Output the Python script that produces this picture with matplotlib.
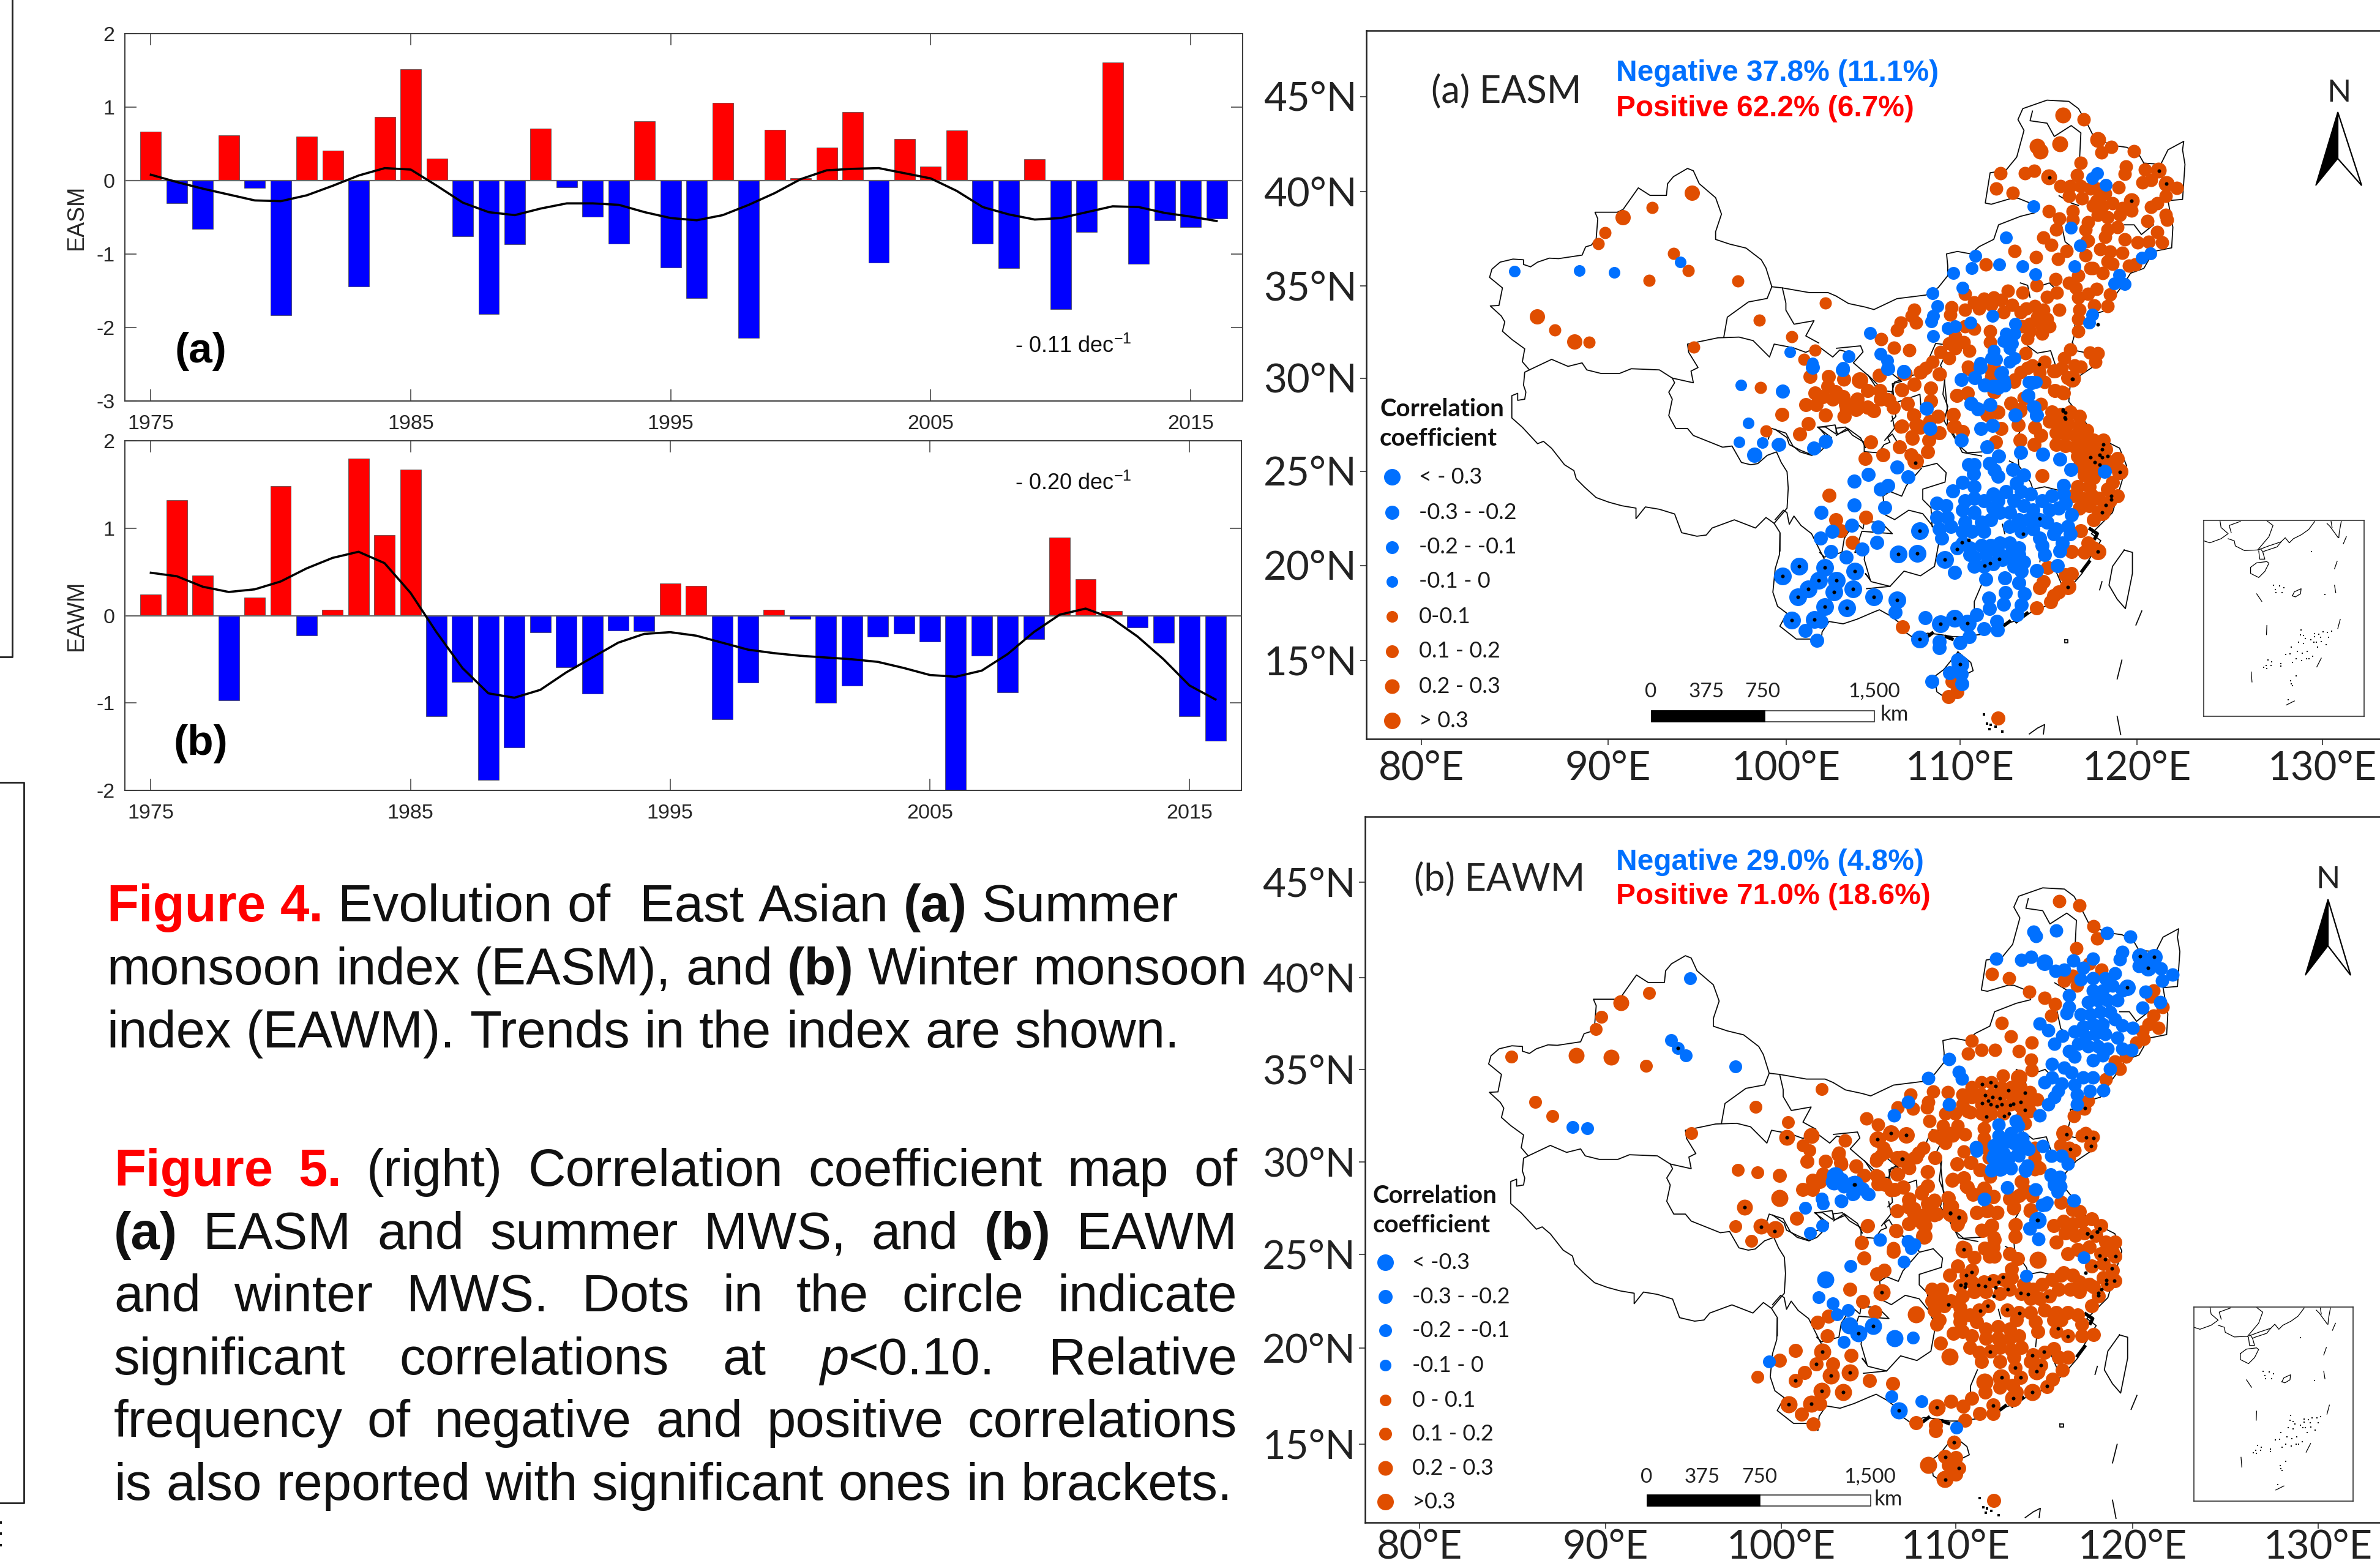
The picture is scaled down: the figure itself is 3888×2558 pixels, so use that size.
import numpy as np
import matplotlib
matplotlib.use("Agg")
import matplotlib.pyplot as plt
from matplotlib.patches import Rectangle, Polygon

W, H = 3888, 2558
plt.rcParams['font.family'] = ['Liberation Sans', 'DejaVu Sans']
plt.rcParams['mathtext.fontset'] = 'custom'
plt.rcParams['mathtext.rm'] = 'Liberation Sans'
plt.rcParams['mathtext.default'] = 'regular'

# ---- index series ----
years = list(range(1975, 2017))
easm = [0.67,-0.31,-0.66,0.62,-0.10,-1.83,0.60,0.41,-1.44,0.87,1.52,0.30,-0.76,-1.82,-0.87,0.71,-0.09,-0.49,-0.86,0.81,-1.18,
        -1.60,1.06,-2.14,0.69,0.03,0.45,0.93,-1.12,0.57,0.19,0.68,-0.86,-1.19,0.29,-1.75,-0.70,1.61,-1.13,-0.54,-0.63,-0.52]
easm_smooth = [0.08,-0.02,-0.11,-0.19,-0.27,-0.28,-0.20,-0.07,0.07,0.17,0.15,-0.07,-0.30,-0.43,-0.47,-0.38,-0.31,-0.31,-0.33,-0.43,-0.51,
               -0.54,-0.47,-0.33,-0.17,0.02,0.14,0.16,0.17,0.10,0.03,-0.14,-0.36,-0.46,-0.53,-0.51,-0.43,-0.35,-0.36,-0.44,-0.49,-0.55]
eawm = [0.24,1.32,0.46,-0.97,0.21,1.48,-0.23,0.07,1.80,0.92,1.67,-1.15,-0.76,-1.88,-1.51,-0.19,-0.59,-0.89,-0.17,-0.18,0.37,
        0.34,-1.19,-0.77,0.07,-0.04,-1.00,-0.80,-0.24,-0.21,-0.30,-2.00,-0.46,-0.88,-0.27,0.89,0.42,0.05,-0.14,-0.31,-1.15,-1.43]
eawm_smooth = [0.49,0.45,0.33,0.27,0.30,0.39,0.54,0.66,0.73,0.60,0.26,-0.19,-0.60,-0.89,-0.94,-0.85,-0.65,-0.48,-0.31,-0.21,-0.19,
               -0.23,-0.31,-0.39,-0.43,-0.46,-0.48,-0.50,-0.53,-0.60,-0.68,-0.70,-0.63,-0.44,-0.19,0.01,0.08,-0.03,-0.24,-0.50,-0.80,-0.96]
year_ticks = [1975, 1985, 1995, 2005, 2015]

# ---- map labels ----
lon_labels = ['80°E', '90°E', '100°E', '110°E', '120°E', '130°E']
lat_labels = ['45°N', '40°N', '35°N', '30°N', '25°N', '20°N', '15°N']
legend_a = ['< - 0.3', '-0.3 - -0.2', '-0.2 - -0.1', '-0.1 - 0', '0-0.1', '0.1 - 0.2', '0.2 - 0.3', '> 0.3']
legend_b = ['< -0.3', '-0.3 - -0.2', '-0.2 - -0.1', '-0.1 - 0', '0 - 0.1', '0.1 - 0.2', '0.2 - 0.3', '>0.3']
scale_labels = ['0', '375', '750', '1,500']

# ---- stations, digitised by area of the map (sheet coordinates of each area) ----
# map (a)
a_west_pos = [(730,102),(527,208),(500,256),(820,297),(883,372),(715,412),(1095,415),(1468,510),(313,624),(459,677),(1187,584),
              (908,699),(1325,653),(1425,712),(1378,750),(1192,869),(1215,1055)]
a_west_pos_big = [(900,38),(603,143),(238,566),(397,673)]
a_west_neg = [(140,375),(418,371),(568,379),(850,335),(1108,860),(1140,1023),(1100,1103),(1200,1105),(1262,1113),(1318,719),(1415,767)]
a_west_neg_big = [(1165,1157)]

a_ne_pos = [(1022,165),(1135,278),(1095,300),(1230,295),(1010,345),(1195,360),(1190,390),(1275,372),(677,387),(778,388),(817,377),(660,450),(728,467),
    (925,440),(965,440),(995,395),(1010,440),(960,480),(1015,490),(1050,450),(1075,450),(1075,500),(1110,470),(1165,445),(1060,520),(1100,520),(1140,510),
    (1180,530),(1220,540),(1170,560),(1120,570),(1080,560),(1040,590),(1030,620),(1120,620),(1160,610),(1190,660),(1110,650),(1040,665),(1265,425),(1300,415),
    (1405,448),(1360,480),(1325,510),(1300,525),(1360,560),(1365,580),(1285,585),(1325,630),(1345,672),(1290,670),(1245,672),(975,545),(975,580),(920,573),
    (907,620),(877,545),(855,653),(888,682),(737,707),(825,733),(950,708),(915,740),(617,763),(1035,667),(1030,725),(1090,700),(1130,710),(1180,715),(1120,750),
    (1050,780),(1100,800),(1140,760),(1210,770),(1235,765),(905,825),(960,840),(1000,810),(1060,780),(1075,865),(1040,885),(990,860),(1130,887),(1120,935),
    (1065,933),(1000,900),(1005,950),(1000,990),(1000,1040),(707,873),(770,880),(827,850),(530,885),(870,897),(910,880),(920,950),(855,950),(820,935),(785,945),
    (725,930),(680,910),(650,900),(610,905),(570,920),(590,945),(530,950),(475,940),(470,970),(640,930),(690,960),(760,960),(830,980),(870,990),(800,1010),
    (850,1020),(880,1020),(770,1020),(850,1050),(790,1070),(800,1040),(322,950),(310,975),(330,1005),(265,1005),(250,1035),(185,1073),(237,1107),(302,1117),
    (570,1030),(530,1020),(490,1060),(465,1090),(525,1085),(490,1110),(550,1120),(430,1125),(465,1150),(398,1165),(370,1190),(348,1210),(427,1217),(545,1185),
    (635,1040),(635,1085),(180,1222),(285,1215),(782,1130),(810,1180),(860,1165),(790,1190),(760,1210),(840,1210),(735,1240),(860,1250),(650,1180),(640,1230),
    (650,1290),(965,1115),(940,1150),(930,1190),(985,1180),(1010,1185),(905,1205),(1048,1128),(1080,1130),(1070,1165),(900,1285),(930,1290),(495,1305),(540,1298),
    (720,1335),(775,1315),(320,1258),(390,1275),(390,1330),(293,1340),(268,1280),(625,1385),(665,1375),(480,1385),(760,1360),(845,1340),(130,1285),(180,1285),
    (95,1245),(30,1240),(5,1300),(30,1320),(40,1360),(85,1320),(85,1360),(130,1355),(150,1365),(210,1320),(185,1320),(235,1355),(30,1390),(320,1385),(340,1430),
    (310,1475),(265,1435),(420,1390),(385,1410),(425,1460),(483,1435),(520,1455)]
a_ne_pos_big = [(935,147),(1080,248),(830,275),(843,295),(922,265),(1330,375),(877,403),(1220,502),(1362,430),(975,1235)]
a_ne_neg = [(1078,387),(1057,407),(1113,435),(815,523),(968,612),(1007,685),(700,652),(575,728),(558,778),(673,763),(770,772),(823,805),(983,772),(482,800),
    (520,860),(397,882),(1262,737),(1297,717),(1168,808),(1148,843),(1190,845),(418,937),(400,975),(392,1000),(400,1060),(460,1027),(490,1018),(555,1005),(645,975),
    (140,1048),(183,1133),(210,1160),(213,1190),(277,1203),(50,1143),(27,1192),(738,1008),(735,1050),(700,1050),(690,1080),(725,1090),(715,1110),(650,1120),(640,1150),
    (595,1170),(660,1155),(735,1150),(715,1165),(685,1210),(690,1240),(650,1265),(612,1262),(695,1265),(515,1240),(572,1230),(810,1250),(795,1305),(555,1340),(585,1360),
    (635,1343),(813,1350),(825,1385),(740,1385),(370,1357),(388,1442),(597,1442),(645,1428),(1058,970),(1045,1005),(793,1250),(825,1250)]
a_ne_dots = [(880,405),(1220,502),(1332,378),(1362,430),(838,1177),(975,1237),(935,1362),(945,1375),(945,1400),(1080,1012)]

a_south_pos = [(150,40),(228,40),(293,50),(445,35),(550,25),(620,20),(700,28),(592,72),(665,88),(540,97),(395,100),(448,100),(170,110),(130,160),(175,160),(225,80),
    (260,105),(205,125),(245,135),(290,125),(300,160),(345,180),(350,135),(395,170),(420,185),(450,135),(485,140),(505,170),(565,155),(665,145),(30,200),(215,205),(295,208),
    (140,240),(105,285),(408,320),(590,205),(600,245),(540,252),(695,210),(620,255),(700,280),(585,303),(655,310),(530,340),(650,360),(460,375),(383,390),(580,375),
    (775,120),(820,110),(760,200),(765,250),(800,275),(905,200),(950,192),(1005,155),(965,262),(1045,185),(1065,130),(1037,245),(1045,310),(940,320),(1108,255),(1135,290),
    (1105,328),(935,105),(825,5),(925,20),(1020,60),(1190,15),(1250,45),(1195,100),(1230,110),(1180,190),(1220,200),(1260,190),(1300,210),(1170,230),(1210,240),(1250,240),
    (1300,250),(1330,270),(1200,280),(1240,285),(1280,290),(1320,300),(1360,310),(1400,310),(1200,330),(1240,335),(1280,340),(1320,340),(1360,350),(1410,350),(1290,380),
    (1330,390),(1370,390),(1300,420),(1340,430),(1380,440),(1320,460),(1360,470),(1420,400),(1460,390),(1440,490),(1430,420),(1290,510),(1340,510),(1270,550),(1310,560),
    (1350,545),(1300,600),(1340,590),(1380,560),(1420,520),(1460,550),(1430,570),(1410,600),(1380,620),(1360,650),(1140,462),(1305,697),(1265,787),(1335,750),(1320,790),
    (1360,770),(1163,855),(1145,915),(1130,940),(1265,880),(1240,885),(1210,960),(1175,1000),(1190,975),(1115,1027),(230,547),(260,650),(388,640),(280,697),(330,747),
    (543,1108),(952,1497),(755,1340),(775,1385),(740,1405)]
a_south_pos_big = [(360,55),(598,400),(1268,50),(1470,445),(1395,620),(1378,787),(1250,935)]
a_south_neg = [(32,103),(15,330),(213,315),(165,345),(520,425),(398,457),(337,487),(567,468),(480,505),(450,520),(337,587),(197,620),(467,598),(327,675),(440,682),(433,747),
    (370,777),(243,700),(193,730),(237,787),(303,810),(645,175),(662,262),(795,310),(795,52),(852,45),(835,155),(865,178),(918,160),(878,262),(928,248),(905,340),(1025,205),
    (1080,120),(1095,65),(1105,170),(1115,205),(1047,362),(953,378),(1143,372),(1215,392),(1263,437),(1405,443),(965,25),(975,60),(930,80),(895,75),(950,85),(160,0),(288,10),
    (480,5),(548,18),(875,0),(825,415),(850,415),(848,455),(915,410),(935,440),(950,465),(1015,437),(1060,460),(1030,495),(800,490),(850,510),(757,527),(1050,530),(1090,540),
    (1230,505),(690,580),(730,590),(690,640),(735,640),(700,690),(710,730),(750,680),(810,570),(850,560),(890,570),(930,540),(985,530),(950,570),(800,610),(850,620),(930,600),
    (960,620),(1020,570),(1060,590),(1100,610),(1140,570),(1180,550),(1230,540),(1240,580),(1170,610),(1210,600),(1265,630),(810,660),(800,700),(840,700),(880,660),(920,650),
    (890,700),(1000,620),(1000,680),(1040,650),(1080,650),(1130,650),(1160,660),(1200,690),(1250,680),(1190,710),(1260,710),(1050,700),(1100,690),(1130,730),(1140,760),(1150,800),
    (1225,750),(1215,785),(1205,848),(1115,867),(800,750),(830,770),(775,770),(850,810),(830,800),(880,760),(920,760),(960,750),(1000,750),(1040,770),(900,800),(950,790),(1000,800),
    (1040,800),(850,850),(890,850),(930,840),(970,820),(1060,830),(1050,870),(900,905),(980,900),(1040,920),(1020,850),(765,875),(912,985),(915,1030),(983,963),(975,1012),(1063,967),
    (1050,1015),(1033,1055),(945,1085),(948,1120),(890,1117),(860,1057),(828,1150),(790,1177),(640,1068),(700,1170),(700,1197),(513,1045),(128,1123),(178,1165),(196,1085),
    (780,1250),(745,1305),(795,1310),(797,1350),(670,1340)]
a_south_neg_big = [(617,698),(525,797),(605,795),(723,820),(102,850),(32,892),(212,855),(340,870),(185,910),(142,945),(97,980),(262,910),(252,958),(332,945),(420,980),(521,993),
    (212,1023),(305,1027),(70,1080),(168,1077),(617,1160),(705,1095),(767,1072),(820,1092),(790,1268)]
a_south_dots = [(617,698),(525,797),(605,795),(723,820),(102,850),(32,892),(212,855),(340,870),(185,910),(142,945),(97,980),(262,910),(252,958),(332,945),(420,980),(521,993),
    (212,1023),(305,1027),(70,1080),(168,1077),(617,1160),(705,1095),(767,1072),(820,1092),(790,1268),(1130,645),(1058,712),(825,738),(798,747),(775,777),(957,817),(918,835),(895,848),
    (598,407),(1268,50),(1228,185),(1235,215),(1400,330),(1395,350),(1385,375),(1395,385),(1420,378),(1345,385),(1365,405),(1385,415),(1470,447),(1435,550),(1435,565),(1412,588),
    (1395,620),(1378,787),(1250,937)]

# map (b)
b_west_pos = [(265,522),(467,541),(472,392),(400,441),(392,466),(301,616),(327,644),(535,680),(632,625),(731,589),(605,755),(634,760),(601,871),(625,900),(634,1179),
              (680,657),(702,705),(712,715)]
b_west_pos_big = [(363,520),(415,524),(430,412),(615,832),(640,870),(660,878),(678,688),(715,685)]
b_west_neg = [(533,362),(505,488),(515,505),(527,520),(601,542),(357,667),(379,669),(652,1148)]
b_west_dots = [(515,505),(615,832),(640,872),(660,880),(678,688)]

b_ne_pos = [(920,132),(1003,148),(1063,235),(1077,285),(992,327),(643,433),(712,450),(797,507),(860,530),(903,557),(888,605),(682,635),(720,690),(808,715),(558,708),(600,745),
    (655,745),(543,762),(753,752),(805,787),(808,830),(687,852),(940,460),(975,440),(995,480),(1045,390),(1095,415),(1310,500),(1300,525),(1348,570),(1310,605),(1290,640),(1330,655),
    (1265,670),(1240,715),(1270,700),(1195,775),(1150,795),(1170,825),(1112,868),(1040,955),(1025,990),(980,1020),(307,930),(400,918),(460,920),(380,960),(375,985),(317,990),(252,985),
    (125,1030),(172,1055),(385,1040),(520,930),(560,900),(600,880),(640,880),(680,900),(720,900),(760,900),(800,920),(830,950),(520,970),(560,940),(600,930),(640,930),(680,930),(720,930),
    (760,940),(800,960),(540,1000),(600,970),(640,970),(680,970),(720,970),(760,980),(800,1000),(780,1050),(450,1010),(490,1010),(555,1005),(600,1010),(620,1020),(640,1010),(690,1010),
    (770,1020),(610,1070),(610,1110),(620,1150),(630,1190),(440,1060),(500,1060),(470,1090),(530,1095),(430,1110),(405,1100),(450,1130),(480,1100),(195,1150),(185,1180),(165,1205),(35,1120),
    (10,1170),(20,1220),(82,1225),(115,1265),(360,1150),(340,1170),(320,1190),(407,1190),(527,1165),(497,1218),(552,1212),(375,1250),(593,1242),(300,1235),(255,1260),(165,1265),(190,1300),
    (225,1325),(275,1315),(355,1330),(375,1310),(480,1280),(525,1275),(535,1310),(565,1340),(615,1320),(650,1350),(635,1270),(460,1355),(478,1390),(498,1470),(405,1365),(380,1390),(300,1360),
    (320,1400),(350,1430),(405,1430),(355,1465),(300,1465),(250,1410),(248,1495),(127,1475),(578,1417),(625,1405),(665,1417),(640,1470),(600,1490),(650,1520),(720,1355),(770,1290),(765,1340),
    (810,1350),(730,1400),(800,1410),(740,1467),(738,1515),(820,1240),(840,1235),(820,1190),(820,1150),(103,1540),(235,1565),(520,1560),(925,1140),(960,1150),(985,1160),(960,1190),(1030,1090),
    (1060,1105),(1050,1140),(1015,1100)]
b_ne_pos_big = [(753,860),(225,1090),(170,1115),(288,1097),(270,1195),(470,1420),(505,1437),(362,1515),(940,1090)]
b_ne_neg = [(660,370),(765,375),(803,362),(815,258),(825,275),(908,252),(1119,262),(1213,278),(1180,342),(1170,372),(1060,370),(978,377),(1018,408),(1010,455),(905,420),(940,415),(1150,430),
    (1278,507),(1265,572),(1338,550),(1225,655),(1388,435),(1345,460),(1250,400),(1340,410),(1060,450),(1110,450),(1060,500),(1100,500),(1140,480),(1180,500),(1040,550),(1080,540),(1120,540),
    (1160,540),(1010,600),(1050,600),(1090,590),(1130,590),(1020,650),(1060,640),(1100,640),(1150,620),(1180,645),(985,670),(1030,690),(1070,680),(1110,680),(1160,695),(960,750),(1000,720),
    (1040,730),(1080,730),(1120,740),(1180,740),(1220,745),(985,775),(1060,790),(1100,770),(960,520),(960,570),(950,595),(840,638),(875,665),(932,687),(900,722),(890,805),(465,783),(380,862),
    (505,838),(518,865),(1130,825),(940,820),(970,840),(860,880),(890,860),(930,885),(915,915),(900,940),(875,970),(985,890),(995,930),(995,970),(1020,860),(1060,860),(1048,915),(1102,912),
    (297,962),(237,1017),(465,970),(840,1017),(670,1055),(740,1040),(750,1060),(670,1100),(720,1090),(770,1110),(650,1140),(690,1130),(730,1130),(780,1140),(795,1155),(650,1180),(690,1170),
    (750,1170),(670,1220),(700,1210),(640,1245),(680,1240),(720,1235),(790,1225),(780,1240),(577,1148),(852,1142),(887,1183),(930,1183),(955,1217),(885,1265),(915,1275),(900,1305),(925,1310),
    (705,1315),(823,1322),(610,1362),(862,1385),(850,1385),(980,1367),(800,1485),(835,1527),(180,1530),(295,1538),(320,1550),(15,1280),(30,1310),(70,1340),(110,1320),(130,1340),(20,1370)]
b_ne_neg_big = [(860,385),(1255,360),(1312,362),(1287,407),(1202,487),(830,1450),(70,1300)]
b_ne_dots = [(603,888),(637,880),(658,895),(710,914),(778,924),(615,932),(645,940),(675,945),(628,957),(603,966),(637,970),(662,978),(683,970),(718,973),(730,968),(760,962),(778,995),(620,1022),
    (692,1020),(712,1010),(1027,987),(952,1095),(1032,1107),(1062,1110),(1052,1143),(965,1157),(225,1090),(170,1115),(288,1097),(272,1195),(75,1302),(470,1420),(505,1437),(830,1450),(1255,358),
    (1312,362),(1288,407),(1202,487),(1088,1485),(1078,1497),(1037,1505),(1052,1518)]

b_south_pos = [(135,45),(215,45),(280,50),(345,65),(270,15),(435,35),(470,5),(520,30),(600,25),(683,30),(570,70),(650,90),(520,100),(775,55),(835,50),(875,80),(755,125),(805,115),(820,155),(845,185),
    (1125,70),(1050,130),(1000,205),(1020,240),(1090,250),(1040,190),(1080,175),(18,105),(118,165),(160,125),(160,165),(205,100),(190,130),(380,105),(440,110),(470,145),(510,165),(440,140),(545,155),
    (650,150),(625,180),(570,210),(570,240),(520,255),(590,265),(650,225),(680,215),(690,270),(640,285),(620,300),(570,310),(640,320),(515,340),(635,365),(740,200),(745,240),(780,310),(890,160),
    (930,195),(860,265),(905,255),(945,265),(885,340),(925,320),(1025,315),(1025,365),(92,288),(395,320),(368,392),(505,428),(380,458),(935,380),(895,415),(930,410),(850,455),(915,450),(935,450),
    (1000,440),(1035,460),(780,490),(840,510),(815,530),(745,530),(1010,505),(465,510),(435,525),(320,590),(373,643),(427,687),(180,733),(228,705),(222,790),(87,853),(18,893),(325,872),(175,910),(125,945),
    (85,980),(245,910),(403,980),(503,992),(190,1080),(112,1123),(162,1165),(705,820),(750,1070),(803,1090),(840,1057),(872,1120),(930,1085),(930,1120),(810,1150),(600,1160),(685,1170),(685,1195),
    (897,1030),(1025,925),(1048,968),(960,1010),(1015,1000),(1030,1030),(1160,1005),(1185,975),(1225,935),(1135,915),(762,1245),(725,1305),(770,1310),(740,1340),(783,1355),(770,1380),(934,1492),
    (670,590),(710,590),(790,575),(840,560),(890,560),(930,555),(975,550),(1010,540),(1060,570),(1100,590),(1140,570),(1180,550),(1220,530),(1270,530),(1300,560),(1340,570),
    (670,640),(710,630),(750,640),(800,620),(850,600),(900,600),(960,610),(1000,590),(1050,610),(1090,630),(1130,630),(1170,620),(1210,590),(1260,590),(1300,600),
    (680,680),(720,660),(790,670),(790,700),(870,680),(910,660),(990,680),(1040,690),(1090,690),(1150,680),(1200,690),(1250,690),(1290,700),
    (700,720),(690,740),(790,730),(830,700),(860,730),(900,760),(950,750),(1000,760),(1030,720),(1110,730),(1190,720),(1220,720),(1310,740),
    (760,780),(800,770),(840,790),(900,800),(950,800),(1000,800),(1040,790),(1120,770),(1200,770),(1250,790),(1310,790),(1360,785),
    (830,840),(870,860),(920,855),(960,840),(1010,850),(1050,840),(1100,870),(1150,860),(1190,845),(1250,880),(880,900),(960,900),(1020,880),(1090,900),(1210,880),
    (1220,220),(1270,250),(1300,260),(1190,320),(1230,300),(1270,310),(1310,300),(1350,290),(1390,320),(1200,390),(1240,350),(1280,360),(1320,350),(1370,360),(1410,390),(1450,390),(1250,440),(1290,420),
    (1340,410),(1390,440),(1440,430),(1450,450),(1350,490),(1400,480),(1440,510),(1450,555),(1400,540),(1360,580),(1380,620),(1350,660),(1420,570),(1230,520)]
b_south_pos_big = [(18,200),(0,335),(542,33),(750,267),(785,285),(805,420),(1122,465),(455,603),(600,697),(200,858),(238,960),(318,945),(198,1025),(290,1030),(58,1082),(155,1078),(745,878),(690,1095),
    (895,985),(965,968),(1017,1057),(1098,1030),(1115,940),(725,1402),(653,1340)]
b_south_neg = [(928,30),(960,30),(1000,30),(1040,20),(925,75),(960,80),(1005,75),(1075,70),(1070,85),(860,0),(1180,20),(1220,20),(1250,55),(1175,100),(1215,110),(1190,140),(1215,155),(1205,175),(990,155),
    (1112,165),(893,205),(1272,212),(1160,220),(1140,232),(1085,330),(1125,375),(1072,533),(1317,455),(285,120),(330,185),(370,160),(400,185),(280,212),(198,205),(205,225),(128,243),(200,318),(150,350),
    (448,380),(568,385),(580,415),(550,472),(322,490),(185,625),(245,650),(312,680),(263,697),(589,797),(292,815),(625,1068),(497,1048),(773,1180)]
b_south_neg_big = [(255,105),(250,130),(340,140),(215,548),(1120,296),(418,748),(355,778),(315,745),(527,1108),(510,800)]
b_south_dots = [(542,33),(748,267),(783,285),(805,420),(1120,296),(1385,332),(1375,345),(1332,353),(1350,367),(1385,446),(1408,463),(1452,450),(1368,490),(1438,503),(1325,520),(1415,551),(1447,555),(1415,568),
    (1393,590),(1380,605),(1380,617),(838,517),(815,530),(972,538),(915,547),(955,560),(792,573),(812,568),(810,580),(867,573),(897,577),(942,582),(993,590),(1047,607),(1078,612),(1160,622),(932,620),(907,660),
    (875,683),(990,678),(1042,692),(740,657),(1208,758),(1248,793),(918,858),(1098,872),(1147,858),(1135,915),(1117,942),(1025,925),(1047,968),(968,968),(1017,1057),(1098,1030),(1160,1003),(930,1087),(690,1095),
    (528,1108),(762,1245),(726,1306),(783,1355),(726,1403),(455,603),(418,748),(355,778),(338,143),(200,858),(175,910),(85,980),(238,960),(318,945),(198,1025),(290,1030),(58,1082),(155,1078)]

# ---- boundaries ----
west_lines = [
    [(1240,440),(1215,360),(1195,325),(1130,275),(1060,258),(1000,238),(1000,205),(1025,130),(1000,60),(930,0),(905,-55),(880,-65),(820,-30),(795,0),(790,50),(720,50),(670,18),(605,110),(580,122),(485,122),(497,150),
     (490,235),(470,262),(445,270),(430,305),(330,320),(290,318),(240,335),(210,355),(180,345),(180,325),(135,322),(80,335),(45,365),(35,400),(90,445),(75,520),(38,522),(85,565),(100,590),(90,630),(130,665),(185,705),
     (175,760),(205,795),(185,805),(180,860),(190,890),(185,920),(155,925),(155,895),(130,905),(130,1000),(175,1040),(240,1110),(265,1100),(300,1130),(355,1200),(395,1225),(405,1260),(440,1295),(490,1340),(545,1360),
     (600,1375),(660,1385),(660,1430),(700,1380),(760,1390),(825,1410),(855,1490),(920,1505),(960,1500),(985,1470),(1080,1435),(1170,1470),(1215,1425),(1250,1450),(1275,1490),(1275,1568)],
    [(205,795),(300,750),(370,780),(430,765),(450,795),(510,810),(590,810),(640,790),(760,795),(815,830),(905,850),(895,800),(925,785),(885,720),(880,685),(1010,658),(1100,655),(1160,670),(1230,740),(1250,685),(1330,700),
     (1385,720),(1440,695),(1500,740),(1530,710),(1568,720)],
    [(815,830),(825,850),(800,890),(815,920),(800,990),(830,1045),(880,1045),(905,1075),(1030,1125),(1070,1120),(1110,1190),(1150,1200),(1180,1195),(1220,1160),(1260,1145),(1280,1190),(1305,1230),(1310,1300),(1305,1385),(1250,1450)],
    [(1225,1090),(1240,1045),(1300,1065),(1330,1120),(1360,1145),(1410,1160),(1445,1145),(1490,1100),(1440,1040),(1510,1030),(1520,1070),(1568,1050)],
    [(1240,440),(1220,490),(1140,505),(1050,570),(1035,655)],
    [(1240,440),(1285,445),(1300,510),(1300,540),(1335,600),(1420,585),(1385,650),(1440,680)],
    [(1285,445),(1400,465),(1480,465),(1515,480)],
]
ne_lines = [
    [(0,895),(50,925),(120,940),(155,950),(250,905),(370,890),(400,870),(420,860),(460,810),(460,770),(455,720),(500,710),(555,720),(590,690),(650,660),(670,600),(760,565),(820,550),(800,510),(750,490),(725,490),(640,515),
     (615,510),(635,385),(700,375),(745,320),(775,210),(750,165),(770,120),(870,85),(960,90),(1000,120),(1040,190),(1060,230),(1130,270),(1200,280),(1250,310),(1270,345),(1340,350),(1370,290),(1435,255),(1430,290),(1440,350),
     (1430,495),(1370,500),(1390,610),(1385,695),(1310,710),(1270,780),(1215,800),(1190,840),(1160,880),(1110,955),(1060,970),(1030,1010),(985,1005),(985,1050),(975,1085)],
    [(790,1100),(830,1130),(885,1120),(905,1180)],
    [(975,1085),(990,1120),(1040,1130),(1095,1130),(1085,1170),(1010,1220),(965,1270),(960,1330),(1040,1430),(1060,1470)],
    [(810,130),(800,170),(870,180),(900,235),(970,190),(1010,220),(1005,320)],
    [(1000,520),(970,510),(920,480)],
    [(930,600),(945,670),(970,690)],
    [(1190,600),(1230,600),(1260,640),(1310,600)],
    [(760,840),(790,850),(800,900)],
    [(850,850),(880,840),(900,860)],
    [(0,1110),(100,1100),(110,1125),(70,1170),(140,1230),(180,1270)],
    [(230,1290),(240,1250),(320,1220),(370,1180),(410,1090),(450,1095)],
    [(450,1140),(430,1180),(450,1220),(440,1300),(460,1350),(445,1410),(500,1500),(520,1540),(600,1555)],
    [(130,1220),(170,1280),(230,1290),(230,1340),(345,1300),(350,1360)],
    [(0,1470),(45,1440),(100,1480),(120,1520)],
    [(230,1390),(240,1440),(200,1490)],
]
south_lines = [
    [(20,710),(18,800),(0,860),(-10,960),(10,1020),(50,1050),(20,1105),(90,1160),(150,1160),(195,1190),(200,1130),(230,1085),(290,1095),(350,1075),(420,1045),(445,1035),(490,1060),(530,1090),(555,1130),(590,1155),(650,1135),
     (700,1140),(760,1150),(800,1150),(880,1140),(950,1100),(1000,1090),(1050,1075),(1100,1040),(1180,1010),(1250,950),(1310,880),(1340,820),(1390,740),(1350,710),(1400,660),(1440,620),(1470,520),(1500,420),(1470,345),(1340,280)],
    [(0,650),(35,610),(50,620),(60,670),(80,635),(110,675),(155,710),(185,770),(210,820)],
    [(0,265),(50,300),(60,330),(110,355),(160,375),(180,335),(235,320),(240,300),(180,255),(215,255),(260,285),(260,260),(300,255),(330,290),(380,320),(380,360),(440,365),(465,330),(490,320),(480,300),(500,285),(540,350),(610,370),(630,425),(690,410),(730,450),(725,490),(630,520),(630,565),(665,600),(670,680)],
    [(625,430),(560,505),(540,550),(490,530),(460,550),(470,630),(510,650),(570,610),(630,625),(670,675),(700,740),(680,850),(620,890),(550,870),(490,935),(410,915),(385,880),(405,905),(380,820),(385,790),(340,790),(370,700),(500,710),(450,660),(380,660),(375,690),(340,660),(295,730),(285,790),(210,810),(190,790)],
    [(390,945),(490,935)],
    [(880,930),(850,1000),(850,1040)],
    [(495,230),(515,210),(500,70),(540,60),(490,20)],
    [(720,30),(735,180),(735,240),(770,300),(780,330),(820,365),(900,360),(940,340)],
    [(1000,400),(1040,420),(1090,490),(1100,520),(1150,510),(1230,530),(1260,530)],
    [(1140,860),(1190,850),(1220,920)],
    [(1135,780),(1130,830)],
    [(970,670),(980,710)],
    [(1060,250),(1030,300),(1035,360),(1040,420)],
    [(780,1215),(835,1260),(845,1295),(815,1310),(795,1390),(740,1420),(690,1385),(680,1320),(720,1290),(780,1215)],
    [(1490,780),(1525,790),(1525,880),(1495,1030),(1460,990),(1425,930),(1440,850),(1490,780)],
    [(1480,1250),(1460,1330)],
    [(1565,1040),(1540,1100)],
    [(1460,1490),(1475,1568)],
    [(1395,915),(1385,950)],
    [(1235,1162),(1250,1162),(1250,1175),(1235,1175),(1235,1162)],
    [(1085,1565),(1120,1540),(1150,1525),(1145,1565)],
]
# rough, thick coast pieces and scattered islets
south_coast_thick = [[(1345,690),(1375,710),(1365,730)], [(1310,870),(1340,830)], [(980,1100),(1000,1085)], [(1030,1085),(1075,1050)], [(650,1150),(670,1135)], [(730,1150),(755,1160)]]
south_islets = [(890,1482),(905,1520),(915,1545),(940,1535),(970,1555),(920,1525)]

# south china sea inset
inset_lines = [
    [(120,160),(150,170),(205,150),(240,125),(205,95),(200,62)],
    [(240,150),(270,160),(275,185),(320,208),(385,205),(400,200),(440,185),(500,165),(520,145),(540,170),(560,150),(600,130),(635,105),(665,65)],
    [(385,205),(440,140),(460,85),(430,62)],
    [(255,120),(245,85),(300,65)],
    [(500,165),(480,190),(420,210),(410,215),(400,200)],
    [(390,210),(395,250),(420,250),(410,215)],
    [(350,290),(380,268),(430,262),(440,270),(420,310),(390,340),(350,320),(350,290)],
    [(725,75),(740,90),(780,145)], [(745,65),(750,95)], [(795,65),(785,120),(783,145)],
    [(820,140),(805,175)], [(775,260),(762,297)], [(762,378),(768,415)], [(380,420),(405,457)], [(790,545),(778,590)],
    [(430,575),(428,620)], [(697,735),(675,778)], [(353,803),(357,852)], [(565,945),(525,965)],
    [(555,430),(565,410),(598,395),(595,420),(570,435),(555,430)],
]
inset_islets = [(463,377),(492,380),(513,390),(470,400),(475,415),(505,415),(648,212),(715,422),(597,597),(595,620),(610,625),(620,638),(665,615),(665,630),(685,618),(695,632),(705,607),(728,609),(748,602),(733,632),
    (585,658),(610,664),(647,645),(660,658),(672,658),(697,655),(720,668),(680,680),(550,682),(580,703),(603,712),(628,703),(655,725),(522,716),(545,715),(573,738),(600,748),(625,738),(637,737),(557,755),(435,745),
    (452,752),(450,770),(497,762),(497,775),(425,770),(415,780),(428,785),(575,822),(547,845),(550,860),(557,870),(535,938)]

BLUE = '#0070FF'
ORANGE = '#E04E00'
DARK = '#3a3a3a'
MAP_FONT = ['Lato', 'DejaVu Sans']


def area(pts, x0, y0, kx, ky=None):
    arr = np.array(pts, dtype=float)
    return x0 + arr[:, 0] * kx, y0 + arr[:, 1] * (kx if ky is None else ky)


def add_axes_px(left, top, right, bottom):
    return fig.add_axes([left / W, 1 - bottom / H, (right - left) / W, (bottom - top) / H])


def d2s(d):
    # marker diameter in pixels to scatter size
    return (d * 0.72) ** 2


def ftext(x, y, s, **kw):
    return fig.text(x / W, 1 - y / H, s, **kw)


fig = plt.figure(figsize=(W / 100, H / 100), dpi=100, facecolor='white')


# ---- bar panels ----
def index_panel(box, values, smooth, ylabel, ylim, yticks, tag, tag_y, trend, trend_y):
    ax = add_axes_px(*box)
    colors = ['#FF0000' if v > 0 else '#0000FF' for v in values]
    ax.bar(years, values, width=0.8, color=colors, edgecolor='#444444', linewidth=0.5, zorder=2)
    ax.axhline(0, color='#666666', lw=1.6, zorder=3)
    ax.plot(years, smooth, color='black', lw=2.6, zorder=4)
    ax.set_xlim(1974, 2017)
    ax.set_ylim(*ylim)
    ax.set_xticks(year_ticks)
    ax.set_yticks(yticks)
    ax.set_yticklabels([str(t) for t in yticks])
    ax.tick_params(axis='both', direction='in', top=True, right=True, length=14, width=1.1, color=DARK, labelsize=24.5, labelcolor='#262626')
    ax.tick_params(axis='x', pad=16)
    ax.tick_params(axis='y', pad=12)
    for sp in ax.spines.values():
        sp.set_color(DARK)
        sp.set_linewidth(1.4)
    ax.set_ylabel(ylabel, fontsize=27, color='#262626', labelpad=10)
    ftext(328, tag_y, tag, fontsize=50, fontweight='bold', ha='center', va='center')
    ftext(1658, trend_y, trend, fontsize=26, color='#111111', ha='left', va='center')
    return ax


index_panel((204, 55, 2030, 655), easm, easm_smooth, 'EASM', (-3, 2), [-3, -2, -1, 0, 1, 2], '(a)', 574, '- 0.11 dec$^{-1}$', 566)
index_panel((204, 720, 2028, 1291), eawm, eawm_smooth, 'EAWM', (-2, 2), [-2, -1, 0, 1, 2], '(b)', 1215, '- 0.20 dec$^{-1}$', 790)


# ---- captions ----
def word_line(baseline, left, words, right=None, size=61.3):
    # words drawn one at a time so that bold, red and italic runs can share a line
    rend = fig.canvas.get_renderer()
    items = []
    for s, kw in words:
        t = ftext(left, baseline, s, fontsize=size, va='baseline', ha='left', color=kw.get('color', '#111111'),
                  fontweight=kw.get('weight', 'normal'), fontstyle=kw.get('style', 'normal'))
        items.append((t, t.get_window_extent(rend).width, kw.get('glue', False)))
    probe = ftext(0, 0, 'n n', fontsize=size)
    probe2 = ftext(0, 0, 'nn', fontsize=size)
    space = probe.get_window_extent(rend).width - probe2.get_window_extent(rend).width
    probe.remove()
    probe2.remove()
    total = sum(w for _, w, _ in items)
    gaps = sum(1 for _, _, g in items[1:] if not g)
    gap = space if right is None else (right - left - total) / max(gaps, 1)
    x = left
    for i, (t, w, g) in enumerate(items):
        if i and not g:
            x += gap
        t.set_x(x / W)
        x += w


N = {}
B = {'weight': 'bold'}
R = {'weight': 'bold', 'color': '#FF0000'}


def plain(s):
    return [(w, N) for w in s.split()]


word_line(1505, 174, [('Figure', R), ('4.', R)] + plain('Evolution of') + [('', N)] + plain('East Asian') + [('(a)', B)] + plain('Summer'))
word_line(1608, 174, plain('monsoon index (EASM), and') + [('(b)', B)] + plain('Winter monsoon'))
word_line(1711, 174, plain('index (EAWM). Trends in the index are shown.'))

word_line(1937, 186, [('Figure', R), ('5.', R)] + plain('(right) Correlation coefficient map of'), right=2021)
word_line(2040, 186, [('(a)', B)] + plain('EASM and summer MWS, and') + [('(b)', B), ('EAWM', N)], right=2021)
word_line(2142, 186, plain('and winter MWS. Dots in the circle indicate'), right=2021)
word_line(2245, 186, plain('significant correlations at') + [('p', {'style': 'italic'}), ('<0.10.', {'glue': True})] + plain('Relative'), right=2021)
word_line(2347, 186, plain('frequency of negative and positive correlations'), right=2021)
word_line(2450, 186, plain('is also reported with significant ones in brackets.'))

# cropped frames at the left edge of the sheet
frame_ax = fig.add_axes([0, 0, 1, 1], zorder=-1)
frame_ax.set_xlim(0, W)
frame_ax.set_ylim(H, 0)
frame_ax.axis('off')
frame_ax.plot([0, 20, 20], [1073, 1073, 0], color='#222222', lw=2.0)
frame_ax.plot([0, 39, 39, 0], [1278, 1278, 2455, 2455], color='#222222', lw=2.0)
frame_ax.scatter([1, 1, 1], [2487, 2505, 2524], s=12, color='#111111', marker='s', lw=0)


# ---- maps ----
def map_panel(box, shift, xticks, yticks, groups, dots, legend, legend_x, legend_text_x, legend_y, title_x, title_y,
              name, name_x, name_y, neg, pos, share_y, bar, north, x_pad):
    ax = add_axes_px(*box)
    ax.set_xlim(box[0], box[2])
    ax.set_ylim(box[3], box[1])
    ax.spines['right'].set_visible(False)
    for sp in ax.spines.values():
        sp.set_linewidth(1.8)
        sp.set_color('#222222')
    ax.set_xticks(xticks)
    ax.set_xticklabels(lon_labels)
    ax.set_yticks(yticks)
    ax.set_yticklabels(lat_labels)
    ax.tick_params(axis='both', direction='out', length=7, width=1.2, labelsize=47, color='#333333', labelcolor='#222222')
    ax.tick_params(axis='x', pad=x_pad)
    ax.tick_params(axis='y', pad=4)
    for lab in ax.get_xticklabels() + ax.get_yticklabels():
        lab.set_family(MAP_FONT)

    for pieces, x0, y0, k in [(west_lines, 2420, 300, 600 / 1568), (ne_lines, 3000, 130, 620 / 1568), (south_lines, 2900, 600, 600 / 1568)]:
        for line in pieces:
            lx, ly = shift(*area(line, x0, y0, k))
            ax.plot(lx, ly, color='#0a0a0a', lw=1.3, zorder=2, solid_joinstyle='round')
    for line in south_coast_thick:
        lx, ly = shift(*area(line, 2900, 600, 600 / 1568))
        ax.plot(lx, ly, color='black', lw=4, zorder=2)
    ix, iy = shift(*area(south_islets, 2900, 600, 600 / 1568))
    ax.scatter(ix, iy, s=9, color='black', marker='s', lw=0, zorder=2)

    # orange below blue, as in the figure
    for (pts, x0, y0, kx, ky, color, d) in sorted(groups, key=lambda g: g[5] == BLUE):
        gx, gy = area(pts, x0, y0, kx, ky)
        ax.scatter(gx, gy, s=d2s(d), color=color, lw=0, zorder=3 if color == ORANGE else 4)
    for (pts, x0, y0, kx, ky) in dots:
        gx, gy = area(pts, x0, y0, kx, ky)
        ax.scatter(gx, gy, s=d2s(6), color='black', lw=0, zorder=5)

    # legend
    sizes = [27, 23, 21, 19, 19, 21, 24, 27]
    for i, (lab, ly) in enumerate(zip(legend, legend_y)):
        ax.scatter([legend_x], [ly], s=d2s(sizes[i]), color=BLUE if i < 4 else ORANGE, lw=0, zorder=6)
        ax.text(legend_text_x, ly, lab, fontsize=26, family=MAP_FONT, va='center', ha='left', color='#1a1a1a')
    for s, ty in zip(['Correlation', 'coefficient'], title_y):
        ax.text(title_x, ty, s, fontsize=29, fontweight='bold', family=MAP_FONT, va='center', ha='left', color='#111111')

    ax.text(name_x, name_y, name, fontsize=44, family=MAP_FONT, va='center', ha='left', color='#222222')
    ax.text(2640, share_y[0], neg, fontsize=34.5, fontweight='bold', color=BLUE, va='center', ha='left')
    ax.text(2640, share_y[1], pos, fontsize=34.5, fontweight='bold', color='#FF0000', va='center', ha='left')

    # scale bar
    x_lab, y_lab, bx0, bx1, bmid, by0, by1, km_x, km_y = bar
    ax.add_patch(Rectangle((bx0, by0), bx1 - bx0, by1 - by0, facecolor='white', edgecolor='#222222', lw=1.1, zorder=6))
    ax.add_patch(Rectangle((bx0, by0), bmid - bx0, by1 - by0, facecolor='black', edgecolor='black', lw=1.1, zorder=7))
    for lab, lx in zip(scale_labels, x_lab):
        ax.text(lx, y_lab, lab, fontsize=24, family=MAP_FONT, ha='center', va='center', color='#222222')
    ax.text(km_x, km_y, 'km', fontsize=25, family=MAP_FONT, ha='left', va='center', color='#222222')

    # north arrow
    nx, ny, tip, bl, mid, br = north
    ax.text(nx, ny, 'N', fontsize=37, family=MAP_FONT, ha='center', va='center', color='#222222')
    ax.add_patch(Polygon([tip, bl, mid], closed=True, facecolor='black', edgecolor='black', lw=1.2, zorder=7))
    ax.add_patch(Polygon([tip, mid, br], closed=True, facecolor='white', edgecolor='black', lw=1.6, zorder=7))
    return ax


def inset_panel(left, top, right, bottom):
    ax = add_axes_px(left, top, right, bottom)
    ax.set_xlim(120, 907)
    ax.set_ylim(1020, 60)
    ax.set_xticks([])
    ax.set_yticks([])
    for sp in ax.spines.values():
        sp.set_linewidth(1.2)
        sp.set_color('#333333')
    for line in inset_lines:
        arr = np.array(line)
        ax.plot(arr[:, 0], arr[:, 1], color='black', lw=0.9)
    arr = np.array(inset_islets)
    ax.scatter(arr[:, 0], arr[:, 1], s=3, color='black', marker='s', lw=0)


k_6 = 600 / 1568
k_9 = 620 / 1568

groups_a = [
    (a_west_pos, 2420, 300, k_6, k_6, ORANGE, 20), (a_west_pos_big, 2420, 300, k_6, k_6, ORANGE, 25),
    (a_west_neg, 2420, 300, k_6, k_6, BLUE, 19), (a_west_neg_big, 2420, 300, k_6, k_6, BLUE, 25),
    (a_ne_pos, 3000, 130, k_9, k_9, ORANGE, 22), (a_ne_pos_big, 3000, 130, k_9, k_9, ORANGE, 26),
    (a_ne_neg, 3000, 130, k_9, k_9, BLUE, 21),
    (a_south_pos, 2900, 600, k_6, k_6, ORANGE, 23), (a_south_pos_big, 2900, 600, k_6, k_6, ORANGE, 27),
    (a_south_neg, 2900, 600, k_6, k_6, BLUE, 23), (a_south_neg_big, 2900, 600, k_6, k_6, BLUE, 29),
]
dots_a = [(a_ne_dots, 3000, 130, k_9, k_9), (a_south_dots, 2900, 600, k_6, k_6)]

map_panel((2232, 50, 3888, 1207), lambda x, y: (x, y),
          [2322, 2627, 2918, 3202, 3491, 3794], [158, 313, 467, 618, 770, 924, 1079],
          groups_a, dots_a, legend_a, 2274, 2318, [779, 837, 894, 950, 1007, 1064, 1121, 1177], 2254, [668, 716],
          '(a) EASM', 2338, 150, 'Negative 37.8% (11.1%)', 'Positive 62.2% (6.7%)', [120, 177],
          ([2697, 2788, 2879, 3062], 1130, 2698, 3062, 2883, 1161, 1179, 3071, 1167),
          (3821, 152, (3819, 183), (3783, 303), (3819, 259), (3858, 303)), 7)

kx_4, ky_4 = 1 / 0.918, 1 / 1.256
groups_b = [
    (b_west_pos, 2180, 1310, kx_4, ky_4, ORANGE, 21), (b_west_pos_big, 2180, 1310, kx_4, ky_4, ORANGE, 26),
    (b_west_neg, 2180, 1310, kx_4, ky_4, BLUE, 21),
    (b_ne_pos, 3000, 1420, k_9, k_9, ORANGE, 22), (b_ne_pos_big, 3000, 1420, k_9, k_9, ORANGE, 27),
    (b_ne_neg, 3000, 1420, k_9, k_9, BLUE, 22), (b_ne_neg_big, 3000, 1420, k_9, k_9, BLUE, 27),
    (b_south_pos, 2900, 1880, k_6, k_6, ORANGE, 23), (b_south_pos_big, 2900, 1880, k_6, k_6, ORANGE, 28),
    (b_south_neg, 2900, 1880, k_6, k_6, BLUE, 21), (b_south_neg_big, 2900, 1880, k_6, k_6, BLUE, 28),
]
dots_b = [(b_west_dots, 2180, 1310, kx_4, ky_4), (b_ne_dots, 3000, 1420, k_9, k_9), (b_south_dots, 2900, 1880, k_6, k_6)]

map_panel((2230, 1334, 3888, 2487), lambda x, y: (2180 + 0.994 * (x - 2180), 1317.5 + 0.9937 * (y - 30)),
          [2319, 2623, 2910, 3195, 3484, 3787], [1441, 1597, 1747, 1898, 2049, 2202, 2359],
          groups_b, dots_b, legend_b, 2263, 2307, [2062, 2118, 2173, 2230, 2287, 2342, 2398, 2453], 2243, [1953, 2001],
          '(b) EAWM', 2310, 1437, 'Negative 29.0% (4.8%)', 'Positive 71.0% (18.6%)', [1408, 1464],
          ([2690, 2781, 2874, 3055], 2413, 2691, 3056, 2875, 2442, 2460, 3062, 2449),
          (3803, 1437, (3803, 1469), (3766, 1593), (3803, 1545), (3840, 1593)), 1)

inset_panel(3600, 850, 3862, 1170)
inset_panel(3584, 2135, 3844, 2452)

fig.savefig('out.png', dpi=100, facecolor='white')
